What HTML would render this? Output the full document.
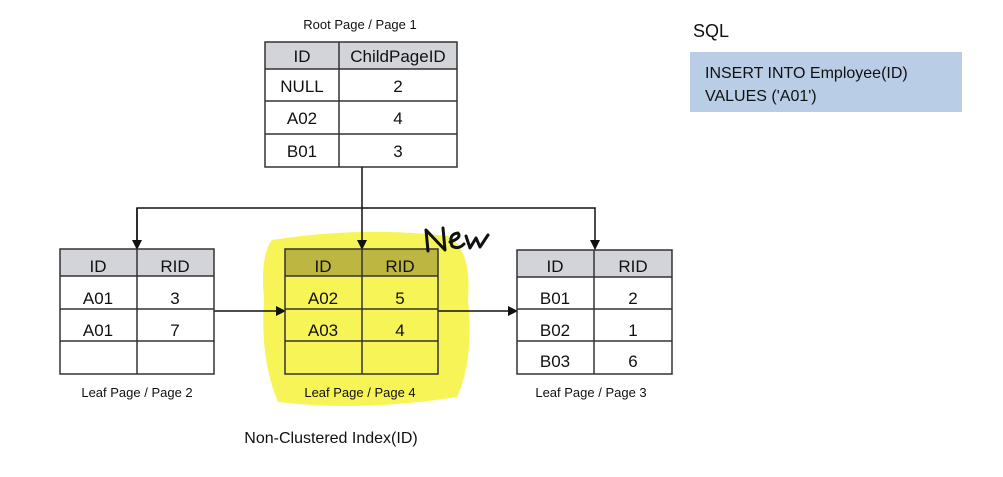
<!DOCTYPE html>
<html><head><style>
body{margin:0;background:#fff;}
svg text{font-family:"Liberation Sans",sans-serif;fill:#111;}
</style></head><body>
<svg width="1003" height="472" xmlns="http://www.w3.org/2000/svg">
<defs><marker id="a" markerWidth="10" markerHeight="10" refX="9" refY="5" orient="auto" markerUnits="userSpaceOnUse"><path d="M0,0 L10,5 L0,10 z" fill="#111"/></marker></defs>
<!-- yellow highlight -->
<path d="M272,240 Q360,226 448,236 Q472,250 468,300 Q474,360 457,397 Q360,412 278,402 Q260,360 264,300 Q260,255 272,240 Z" fill="#f5f23a" opacity="0.85"/>
<!-- root -->
<text x="360" y="29" font-size="13" text-anchor="middle">Root Page / Page 1</text>
<rect x="265" y="42" width="192" height="27" fill="#d3d3da"/>
<g stroke="#333" stroke-width="1.5" fill="none">
<rect x="265" y="42" width="192" height="125"/>
<line x1="339" y1="42" x2="339" y2="167"/>
<line x1="265" y1="69" x2="457" y2="69"/>
<line x1="265" y1="101" x2="457" y2="101"/>
<line x1="265" y1="134" x2="457" y2="134"/>
</g>
<g font-size="17" text-anchor="middle">
<text x="302" y="62">ID</text><text x="398" y="62">ChildPageID</text>
<text x="302" y="92">NULL</text><text x="398" y="92">2</text>
<text x="302" y="124">A02</text><text x="398" y="124">4</text>
<text x="302" y="157">B01</text><text x="398" y="157">3</text>
</g>
<!-- connectors -->
<g stroke="#111" stroke-width="1.5" fill="none">
<line x1="362" y1="167" x2="362" y2="249" marker-end="url(#a)"/>
<polyline points="137,249 137,208 595,208 595,249" marker-end="url(#a)"/>
<line x1="137" y1="208" x2="137" y2="249" marker-end="url(#a)"/>
<line x1="214" y1="311" x2="285" y2="311" marker-end="url(#a)"/>
<line x1="438" y1="311" x2="517" y2="311" marker-end="url(#a)"/>
</g>
<!-- leaf tables -->
<g>
<rect x="60" y="249" width="154" height="27" fill="#d3d3da"/>
<rect x="285" y="249" width="153" height="27" fill="#bdb640"/>
<rect x="517" y="250" width="155" height="27" fill="#d3d3da"/>
</g>
<g stroke="#333" stroke-width="1.5" fill="none">
<rect x="60" y="249" width="154" height="125"/><line x1="137" y1="249" x2="137" y2="374"/>
<line x1="60" y1="276" x2="214" y2="276"/><line x1="60" y1="309" x2="214" y2="309"/><line x1="60" y1="341" x2="214" y2="341"/>
<rect x="285" y="249" width="153" height="125"/><line x1="362" y1="249" x2="362" y2="374"/>
<line x1="285" y1="276" x2="438" y2="276"/><line x1="285" y1="309" x2="438" y2="309"/><line x1="285" y1="341" x2="438" y2="341"/>
<rect x="517" y="250" width="155" height="124"/><line x1="594" y1="250" x2="594" y2="374"/>
<line x1="517" y1="277" x2="672" y2="277"/><line x1="517" y1="309" x2="672" y2="309"/><line x1="517" y1="341" x2="672" y2="341"/>
</g>
<g font-size="17" text-anchor="middle">
<text x="98" y="272">ID</text><text x="175" y="272">RID</text>
<text x="98" y="304">A01</text><text x="175" y="304">3</text>
<text x="98" y="336">A01</text><text x="175" y="336">7</text>
<text x="323" y="272">ID</text><text x="400" y="272">RID</text>
<text x="323" y="304">A02</text><text x="400" y="304">5</text>
<text x="323" y="336">A03</text><text x="400" y="336">4</text>
<text x="555" y="272">ID</text><text x="633" y="272">RID</text>
<text x="555" y="304">B01</text><text x="633" y="304">2</text>
<text x="555" y="336">B02</text><text x="633" y="336">1</text>
<text x="555" y="367">B03</text><text x="633" y="367">6</text>
</g>
<g font-size="13" text-anchor="middle">
<text x="137" y="397">Leaf Page / Page 2</text>
<text x="360" y="397">Leaf Page / Page 4</text>
<text x="591" y="397">Leaf Page / Page 3</text>
</g>
<text x="331" y="443" font-size="16" text-anchor="middle">Non-Clustered Index(ID)</text>
<!-- New -->
<path d="M428,251 L426,230 L445,250 L443,228 M450,242 Q462,238 458,233 Q448,234 452,246 Q458,250 464,244 M466,236 L470,248 L476,238 L480,247 L488,235" stroke="#111" stroke-width="3" fill="none" stroke-linecap="round" stroke-linejoin="round"/>
<!-- SQL -->
<text x="693" y="37" font-size="18">SQL</text>
<rect x="690" y="52" width="272" height="60" fill="#b9cde6"/>
<text x="705" y="78" font-size="16">INSERT INTO Employee(ID)</text>
<text x="705" y="101" font-size="16">VALUES ('A01')</text>
</svg>
</body></html>
